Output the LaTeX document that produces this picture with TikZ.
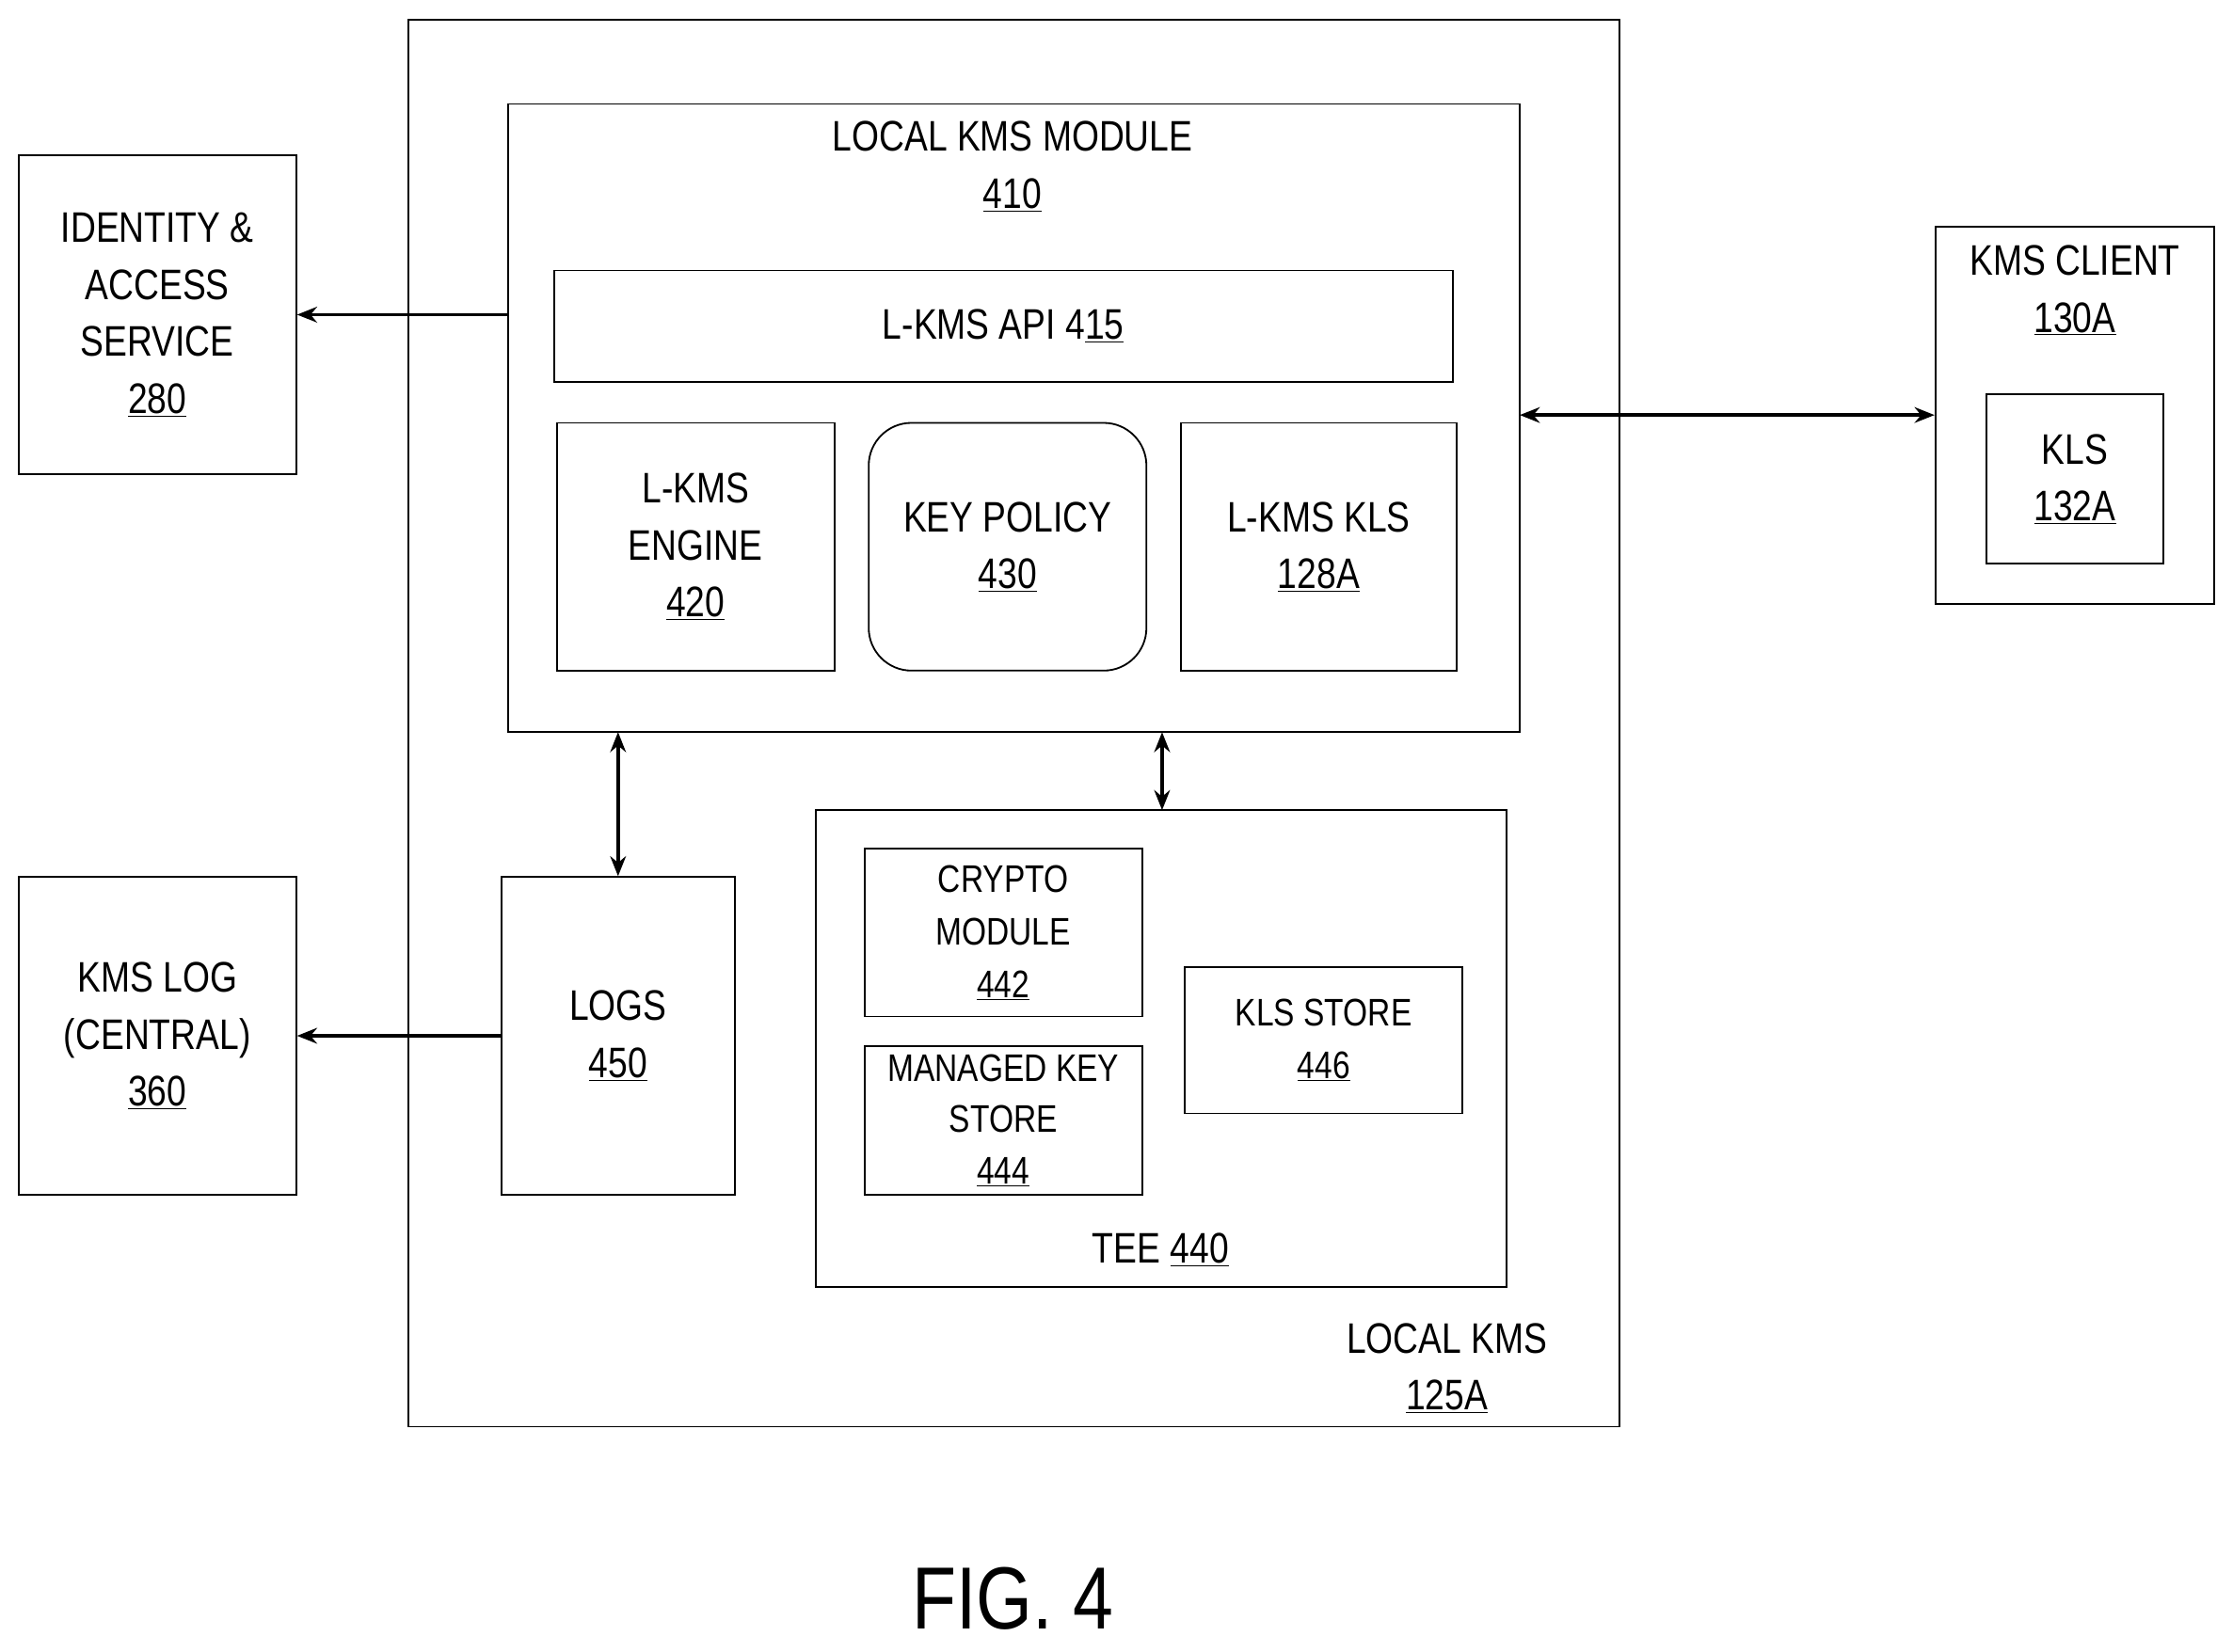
\documentclass[tikz,border=0pt]{standalone}
\usepackage{fontspec}
\setmainfont[FakeStretch=0.82]{Liberation Sans}
\usetikzlibrary{arrows.meta}
\newcommand{\ul}[1]{\underline{#1}}
\begin{document}
\begin{tikzpicture}[x=1pt,y=-1pt,
  box/.style={draw,line width=1.2pt,inner sep=0pt},
  txt/.style={align=center,font=\fontsize{30}{40}\selectfont},
  sm/.style={align=center,font=\fontsize{27}{37}\selectfont},
  arr/.style={line width=2.5pt,-{Stealth[length=14pt,width=11pt]}},
  darr/.style={line width=2.5pt,{Stealth[length=14pt,width=11pt]}-{Stealth[length=14pt,width=11pt]}}]
\useasboundingbox (0,0) rectangle (1568,1160);
\fill[white] (0,0) rectangle (1568,1160);
\draw[box] (287,14) rectangle (1137,1002) coordinate (lkmsse);
\node[txt] (lkms) at (1016,961) {LOCAL KMS\\\ul{125A}};
\draw[box] (357,73) rectangle (1067,514);
\node (mod) [minimum width=710pt,minimum height=441pt,inner sep=0pt] at (712,293.5) {};
\node[txt] (modt) at (711,117) {LOCAL KMS MODULE\\\ul{410}};
\node[box,minimum width=631pt,minimum height=78pt,txt] (api) at (704.5,229) {L-KMS API 4\ul{15}};
\node[box,minimum width=195pt,minimum height=174pt,txt] (eng) at (488.5,384) {L-KMS\\ENGINE\\\ul{420}};
\node[box,rounded corners=30pt,minimum width=195pt,minimum height=174pt,txt] (pol) at (707.5,384) {KEY POLICY\\\ul{430}};
\node[box,minimum width=194pt,minimum height=174pt,txt] (kls) at (926,384) {L-KMS KLS\\\ul{128A}};
\node[box,minimum width=195pt,minimum height=224pt,txt] (idn) at (110.5,221) {IDENTITY \&\\ACCESS\\SERVICE\\\ul{280}};
\node[box,minimum width=196pt,minimum height=265pt] (cli) at (1457,291.5) {};
\node[txt] (clit) at (1457,204) {KMS CLIENT\\\ul{130A}};
\node[box,minimum width=124pt,minimum height=119pt,txt] (kls2) at (1457,336.5) {KLS\\\ul{132A}};
\node[box,minimum width=195pt,minimum height=223pt,txt] (klog) at (110.5,727.5) {KMS LOG\\(CENTRAL)\\\ul{360}};
\node[box,minimum width=164pt,minimum height=223pt,txt] (logs) at (434,727.5) {LOGS\\\ul{450}};
\node[box,minimum width=485pt,minimum height=335pt] (tee) at (815.5,736.5) {};
\node[txt] (teet) at (815,878) {TEE \ul{440}};
\node[box,minimum width=195pt,minimum height=118pt,sm] (cry) at (704.5,655) {CRYPTO\\MODULE\\\ul{442}};
\node[box,minimum width=195pt,minimum height=104pt,sm,font=\fontsize{27}{36}\selectfont] (mks) at (704.5,787) {MANAGED KEY\\STORE\\\ul{444}};
\node[box,minimum width=195pt,minimum height=103pt,sm] (klss) at (929.5,730.5) {KLS STORE\\\ul{446}};
\node[font=\fontsize{62}{70}\selectfont] (fig) at (711,1123) {FIG. 4};
\draw[arr] (mod.west |- idn) -- (idn.east);
\draw[darr] (mod.east |- cli) -- (cli.west);
\draw[darr] (mod.south -| logs) -- (logs.north);
\coordinate (tn) at (816,569);
\draw[darr] (mod.south -| tn) -- (tn);
\draw[arr] (logs.west) -- (klog.east);
\end{tikzpicture}
\end{document}
